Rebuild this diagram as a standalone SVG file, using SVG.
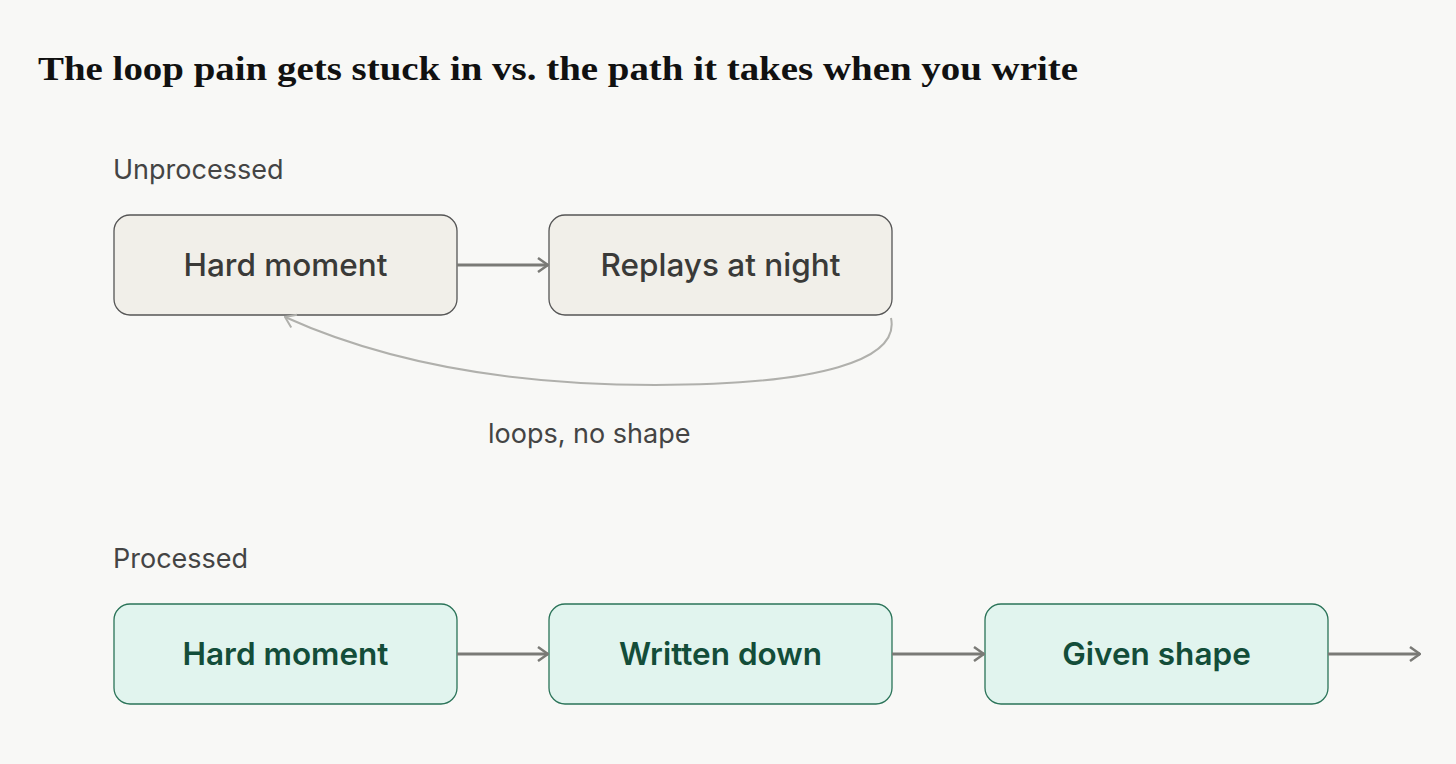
<svg xmlns="http://www.w3.org/2000/svg" width="1456" height="764" viewBox="0 0 1456 764">
<style>
.t{font-family:"Liberation Serif",serif;font-weight:bold;font-size:34px;fill:#111}
.s{font-family:Inter,"Liberation Sans",sans-serif;font-size:27px;fill:#444}
.u rect{fill:#f1efe9;stroke:#555;stroke-width:1.3}
.u text{font-family:Inter,"Liberation Sans",sans-serif;font-size:31.5px;font-weight:500;fill:#3a3a38;text-anchor:middle}
.p rect{fill:#e1f4ee;stroke:#2a7358;stroke-width:1.3}
.p text{font-family:Inter,"Liberation Sans",sans-serif;font-size:31.5px;font-weight:600;fill:#134d39;text-anchor:middle}
.a{stroke:#7a7a76;stroke-width:3;fill:none}
</style>
<defs>
<marker id="m" viewBox="0 0 12 16" refX="11" refY="8" markerWidth="12" markerHeight="16" markerUnits="userSpaceOnUse" orient="auto"><path d="M1,1 L11,8 L1,15" fill="none" stroke="#7a7a76" stroke-width="2.5"/></marker>
<marker id="m2" viewBox="0 0 12 16" refX="11" refY="8" markerWidth="12" markerHeight="16" markerUnits="userSpaceOnUse" orient="auto"><path d="M1,1 L11,8 L1,15" fill="none" stroke="#b0b0ac" stroke-width="2"/></marker>
</defs>
<rect width="1456" height="764" fill="#f8f8f6"/>
<text class="t" x="38" y="80" textLength="1040" lengthAdjust="spacingAndGlyphs">The loop pain gets stuck in vs. the path it takes when you write</text>
<text class="s" x="113" y="179">Unprocessed</text>
<text class="s" x="113" y="568">Processed</text>
<text class="s" x="488" y="443">loops, no shape</text>
<g id="u1" class="u"><rect x="114" y="215" width="343" height="100" rx="16"/><text x="285.5" y="276">Hard moment</text></g>
<g id="u2" class="u"><rect x="549" y="215" width="343" height="100" rx="16"/><text x="720.5" y="276">Replays at night</text></g>
<g id="p1" class="p"><rect x="114" y="604" width="343" height="100" rx="16"/><text x="285.5" y="665">Hard moment</text></g>
<g id="p2" class="p"><rect x="549" y="604" width="343" height="100" rx="16"/><text x="720.5" y="665">Written down</text></g>
<g id="p3" class="p"><rect x="985" y="604" width="343" height="100" rx="16"/><text x="1156.5" y="665">Given shape</text></g>
<g id="connectors">
<path class="a" d="M457,265 H548" marker-end="url(#m)"/>
<path d="M891,318 C900,360 820,385 655,385 C500,385 380,360 285,317" fill="none" stroke="#b0b0ac" stroke-width="2" marker-end="url(#m2)"/>
<path class="a" d="M457,654 H548" marker-end="url(#m)"/>
<path class="a" d="M892,654 H984" marker-end="url(#m)"/>
<path class="a" d="M1328,654 H1420" marker-end="url(#m)"/>
</g>
</svg>
